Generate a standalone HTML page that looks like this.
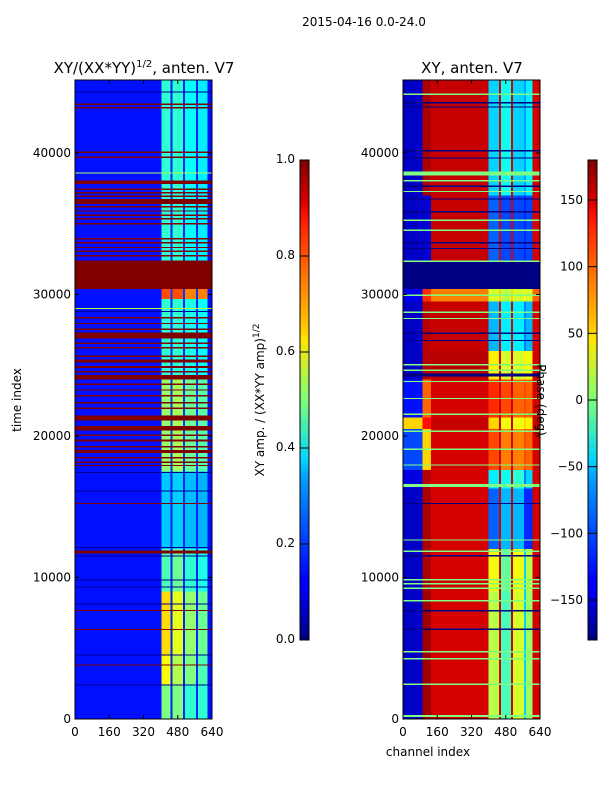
<!DOCTYPE html>
<html><head><meta charset="utf-8">
<style>
html,body{margin:0;padding:0;background:#fff;}
svg{display:block;font-family:"DejaVu Sans","Liberation Sans",sans-serif;}
text{fill:#000;}
</style></head>
<body>
<svg id="fig" width="600" height="800" viewBox="0 0 600 800">
<defs>
<linearGradient id="jetV" x1="0" y1="1" x2="0" y2="0">
<stop offset="0" stop-color="#00007f"/><stop offset="0.11" stop-color="#0000ff"/>
<stop offset="0.125" stop-color="#0000ff"/><stop offset="0.34" stop-color="#00a0ff"/>
<stop offset="0.375" stop-color="#00d4ff"/><stop offset="0.5" stop-color="#7dff7a"/>
<stop offset="0.625" stop-color="#ffe600"/><stop offset="0.66" stop-color="#ffc000"/>
<stop offset="0.875" stop-color="#ff1a00"/><stop offset="0.91" stop-color="#e00000"/>
<stop offset="1" stop-color="#7f0000"/>
</linearGradient>
</defs>
<text x="364" y="26" font-size="12" text-anchor="middle">2015-04-16 0.0-24.0</text>
<text x="144" y="73" font-size="15" text-anchor="middle">XY/(XX*YY)<tspan font-size="10" dy="-6">1/2</tspan><tspan dy="6">, anten. V7</tspan></text>
<text x="472" y="73" font-size="15" text-anchor="middle">XY, anten. V7</text>
<g id="left" shape-rendering="crispEdges"></g>
<g id="right" shape-rendering="crispEdges"></g>
<g id="axes"></g>
<rect x="300" y="160" width="9" height="480" fill="url(#jetV)" stroke="#000" stroke-width="1"/>
<rect x="588" y="160" width="9" height="480" fill="url(#jetV)" stroke="#000" stroke-width="1"/>
<g id="cbticks"></g>
<text transform="translate(21,400) rotate(-90)" font-size="12" text-anchor="middle">time index</text>
<text transform="translate(264,400) rotate(-90)" font-size="12" text-anchor="middle">XY amp. / (XX*YY amp)<tspan font-size="9" dy="-5">1/2</tspan></text>
<text transform="translate(537,400) rotate(90)" font-size="12" text-anchor="middle">Phase (deg)</text>
<text x="428" y="756" font-size="12" text-anchor="middle">channel index</text>
</svg>
<script>
const timeTicks = [0, 10000, 20000, 30000, 40000];
const channelTicks = [0, 160, 320, 480, 640];
const ampTicks = [0.0, 0.2, 0.4, 0.6, 0.8, 1.0];
const phaseTicks = [-150, -100, -50, 0, 50, 100, 150];

const leftEdges = [0,405,445,455,505,515,565,575,620,640];
const leftBlockTimes = [0,2400,4500,9000,12000,17500,24000,29700,30400,32400,45200];
const leftBlockVals = [
 [0.14,0.5,0.16,0.5,0.16,0.42,0.16,0.42,0.14],
 [0.14,0.62,0.16,0.55,0.16,0.5,0.16,0.45,0.14],
 [0.14,0.66,0.16,0.6,0.16,0.52,0.16,0.48,0.14],
 [0.14,0.45,0.16,0.48,0.16,0.42,0.16,0.4,0.14],
 [0.14,0.32,0.16,0.33,0.16,0.31,0.16,0.3,0.14],
 [0.14,0.52,0.18,0.54,0.18,0.48,0.18,0.46,0.14],
 [0.14,0.42,0.16,0.42,0.16,0.4,0.16,0.38,0.14],
 [0.14,0.8,0.18,0.8,0.18,0.75,0.18,0.75,0.14],
 [1,1,1,1,1,1,1,1,1],
 [0.14,0.42,0.16,0.42,0.16,0.38,0.16,0.36,0.14]
];
const leftRedLines = [[43.4,43.5],[43.15,43.25],[40,40.1],[39.65,39.75],[37.8,38.05],[37.4,37.5],[37.15,37.25],[36.9,37.0],[36.4,36.75],[36.15,36.25],[35.85,35.95],[35.55,35.65],[35.3,35.4],[34.95,35.05],[33.9,34.0],[33.6,33.7],[33.3,33.35],[33.0,33.1],[32.7,32.8],[28.3,28.4],[27.9,28.0],[27.5,27.6],[26.9,27.3],[26.5,26.6],[26.2,26.3],[25.6,25.7],[25.2,25.4],[24.8,24.95],[24.5,24.6],[24.0,24.3],[23.6,23.7],[23.2,23.3],[22.8,22.9],[22.3,22.4],[21.9,22.0],[21.1,21.45],[20.4,20.7],[20.0,20.1],[19.6,19.75],[19.2,19.3],[18.8,19.0],[18.4,18.5],[18.1,18.2],[17.9,17.95],[15.2,15.25],[11.7,11.9],[7.65,7.7],[6.3,6.35],[3.8,3.85]];
const leftDarkLines = [[44.3,44.35],[28.8,28.85],[17.4,17.45],[16.1,16.15],[12.1,12.15],[11.5,11.55],[9.8,9.85],[9.3,9.35],[8.1,8.15],[4.5,4.55],[2.4,2.45]];
const leftBrightLines = [[38.55,38.62],[29.0,29.05]];

const rightEdges = [0,90,130,400,448,458,505,515,565,575,605,640];
const rightBlockTimes = [0,9000,12000,16300,17600,20500,21300,24000,26000,29500,30400,32400,37000,45200];
const rightBlockVals = [
 [-155,170,150,20,150,-20,150,30,-60,10,150],
 [-155,165,150,40,150,-10,150,40,-60,20,150],
 [-155,165,150,-100,150,-70,150,-70,-120,-120,150],
 [-145,160,150,-50,150,-40,150,-30,-90,-60,150],
 [-110,60,150,110,150,90,150,90,110,100,150],
 [60,130,155,60,150,40,150,40,60,50,150],
 [-130,100,150,120,150,110,150,100,110,100,150],
 [-155,160,160,50,150,30,150,30,50,40,150],
 [-155,160,155,-70,150,-50,150,-50,-90,-70,150],
 [-140,120,90,30,60,20,60,30,40,30,100],
 [-178,-178,-178,-178,-178,-178,-178,-178,-178,-178,-178],
 [-155,-150,155,-100,150,-110,150,-110,-120,-110,150],
 [-155,165,155,-60,150,-40,150,-60,-80,-50,150]
];
const rightGreenLines = [[44.1,44.2],[38.4,38.7],[38.0,38.1],[37.25,37.3],[35.2,35.3],[34.5,34.6],[32.3,32.4],[29.9,30.0],[28.7,28.8],[28.3,28.35],[25.0,25.1],[24.6,24.7],[23.8,23.9],[22.6,22.7],[21.5,21.6],[20.3,20.4],[19.0,19.1],[17.9,18.0],[16.4,16.6],[12.6,12.7],[11.8,11.9],[9.8,9.9],[9.5,9.6],[9.2,9.3],[8.3,8.4],[4.7,4.8],[4.2,4.3],[2.4,2.5],[0.15,0.3]];
const rightNavyLines = [[43.5,43.6],[43.2,43.3],[40.1,40.2],[39.6,39.7],[37.6,37.7],[36.7,36.8],[35.8,35.9],[33.6,33.7],[33.2,33.3],[27.2,27.3],[26.7,26.8],[24.2,24.4],[15.2,15.25],[11.5,11.6],[7.6,7.7],[6.3,6.4]];

const NS = "http://www.w3.org/2000/svg";
const TMAX = 45160, Y0 = 719, Y1 = 80;
function yT(t){ return Y0 - t / TMAX * (Y0 - Y1); }
function xL(c){ return 75 + c / 640 * 137; }
function xR(c){ return 403 + c / 640 * 137; }
function jet(v){
  const c = x => Math.round(255 * Math.max(0, Math.min(1, x)));
  return `rgb(${c(1.5-Math.abs(4*v-3))},${c(1.5-Math.abs(4*v-2))},${c(1.5-Math.abs(4*v-1))})`;
}
function ph(d){ return (d + 180) / 360; }
function rect(g, x0, x1, t0, t1, col, name){
  const r = document.createElementNS(NS, "rect");
  const ya = yT(t1), yb = yT(t0);
  r.setAttribute("x", x0); r.setAttribute("width", Math.max(0.5, x1 - x0));
  r.setAttribute("y", ya); r.setAttribute("height", Math.max(1, yb - ya));
  r.setAttribute("fill", col);
  
  
  g.appendChild(r);
}
const L = document.getElementById("left"), R = document.getElementById("right");
for (let b = 0; b < leftBlockVals.length; b++)
  for (let s = 0; s < leftEdges.length - 1; s++)
    rect(L, xL(leftEdges[s]), xL(leftEdges[s+1]), leftBlockTimes[b], leftBlockTimes[b+1], jet(leftBlockVals[b][s]), "amp-cell");
leftRedLines.forEach(l => rect(L, xL(0), xL(640), l[0]*1000, l[1]*1000, jet(1), "amp-flag-line"));
leftDarkLines.forEach(l => rect(L, xL(0), xL(640), l[0]*1000, l[1]*1000, jet(0.02), "amp-dark-line"));
leftBrightLines.forEach(l => rect(L, xL(0), xL(640), l[0]*1000, l[1]*1000, jet(0.55), "amp-bright-line"));
for (let b = 0; b < rightBlockVals.length; b++)
  for (let s = 0; s < rightEdges.length - 1; s++)
    rect(R, xR(rightEdges[s]), xR(rightEdges[s+1]), rightBlockTimes[b], rightBlockTimes[b+1], jet(ph(rightBlockVals[b][s])), "phase-cell");
rightGreenLines.forEach(l => rect(R, xR(0), xR(640), l[0]*1000, l[1]*1000, jet(0.5), "phase-green-line"));
rightNavyLines.forEach(l => rect(R, xR(0), xR(640), l[0]*1000, l[1]*1000, jet(0.0), "phase-navy-line"));

const A = document.getElementById("axes");
function line(g, x1, y1, x2, y2, name){
  const l = document.createElementNS(NS, "line");
  l.setAttribute("x1", x1); l.setAttribute("y1", y1); l.setAttribute("x2", x2); l.setAttribute("y2", y2);
  l.setAttribute("stroke", "#000"); l.setAttribute("stroke-width", "1");
  
  
  g.appendChild(l);
}
function text(g, x, y, s, anchor, name){
  const t = document.createElementNS(NS, "text");
  t.setAttribute("x", x); t.setAttribute("y", y); t.setAttribute("font-size", "12");
  t.setAttribute("text-anchor", anchor); t.textContent = s;
  
  
  g.appendChild(t);
}
[[75, xL], [403, xR]].forEach(([x0, fx]) => {
  const fr = document.createElementNS(NS, "rect");
  fr.setAttribute("x", x0); fr.setAttribute("y", Y1); fr.setAttribute("width", 137); fr.setAttribute("height", Y0 - Y1);
  fr.setAttribute("fill", "none"); fr.setAttribute("stroke", "#000");
  
  
  A.appendChild(fr);
  timeTicks.forEach(t => {
    const y = yT(t);
    line(A, x0, y, x0 + 4, y, "y-tick");
    line(A, x0 + 137, y, x0 + 133, y, "y-tick");
    text(A, x0 - 4, y + 4, String(t), "end", "y-tick-label");
  });
  channelTicks.forEach(c => {
    const x = fx(c);
    line(A, x, Y0, x, Y0 - 4, "x-tick");
    line(A, x, Y1, x, Y1 + 4, "x-tick");
    text(A, x, 736, String(c), "middle", "x-tick-label");
  });
});
const C = document.getElementById("cbticks");
ampTicks.forEach(v => {
  const y = 640 - v * 480;
  line(C, 300, y, 309, y, "amp-colorbar-tick");
  text(C, 295, y + 3, v.toFixed(1), "end", "amp-colorbar-tick-label");
});
phaseTicks.forEach(v => {
  const y = 640 - ph(v) * 480;
  line(C, 588, y, 597, y, "phase-colorbar-tick");
  text(C, 583, y + 4, v < 0 ? "\u2212" + Math.abs(v) : String(v), "end", "phase-colorbar-tick-label");
});
</script>
</body></html>
